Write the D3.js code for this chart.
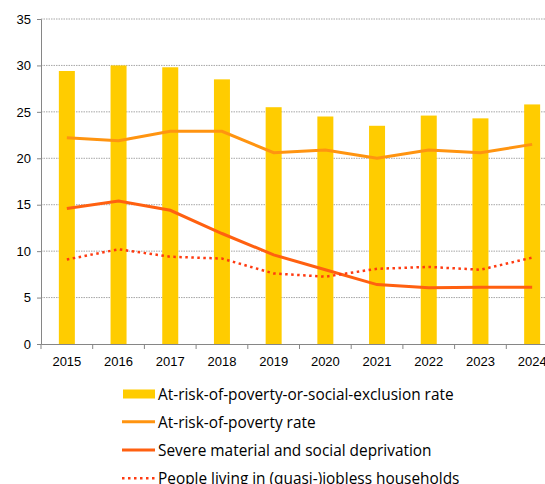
<!DOCTYPE html>
<html><head><meta charset="utf-8">
<script src="https://cdn.jsdelivr.net/npm/d3@7"></script>
<style>body{margin:0;background:#fff;overflow:hidden}svg{display:block}</style>
</head><body>
<svg id="c" width="545" height="484"></svg>
<script>
const years = ["2015","2016","2017","2018","2019","2020","2021","2022","2023","2024"];
const aropeRate = [29.4,30.0,29.8,28.5,25.5,24.5,23.5,24.6,24.3,25.8];
const aropRate = [22.2,21.9,22.9,22.9,20.6,20.9,20.0,20.9,20.6,21.5];
const smsdRate = [14.6,15.4,14.4,11.9,9.6,8.0,6.4,6.05,6.1,6.1];
const lwiRate = [9.1,10.2,9.4,9.2,7.6,7.25,8.1,8.3,8.0,9.3];
const yTicks = [0,5,10,15,20,25,30,35];
const legendLabels = ["At-risk-of-poverty-or-social-exclusion rate","At-risk-of-poverty rate","Severe material and social deprivation","People living in (quasi-)jobless households"];

const svg = d3.select("#c");
const font = "'Liberation Sans', Arial, sans-serif";
const lfont = "'Open Sans', 'Liberation Sans', sans-serif";
const x0 = 41, x1 = 558, yTop = 19, yBot = 344;
const x = d3.scaleBand().domain(years).range([x0, x1]).padding(0);
const y = d3.scaleLinear().domain([0,35]).range([yBot, yTop]);
const cx = d => x(d) + x.bandwidth()/2;

// gridlines
svg.append("g").selectAll("line").data(yTicks.filter(t=>t>0)).join("line")
  .attr("x1", x0).attr("x2", 545).attr("y1", d=>y(d)).attr("y2", d=>y(d))
  .attr("stroke", "#a6a6a6").attr("stroke-width", 1).attr("stroke-dasharray", "1.5,1");

// bars
const bw = 16;
svg.append("g").selectAll("rect").data(years).join("rect")
  .attr("x", (d)=>cx(d)-bw/2).attr("width", bw)
  .attr("y", (d,i)=>y(aropeRate[i])).attr("height", (d,i)=>y(0)-y(aropeRate[i]))
  .attr("fill", "#FFCC00");

// axes
const yAxis = svg.append("g").attr("transform", `translate(${x0},0)`)
  .call(d3.axisLeft(y).tickValues(yTicks).tickSize(4).tickPadding(6));
yAxis.select(".domain").attr("stroke", "#868686");
yAxis.selectAll(".tick line").attr("stroke", "#868686");
yAxis.selectAll("text").attr("font-family", font).attr("font-size", 13).attr("fill", "#000");

const xAxis = svg.append("g").attr("transform", `translate(0,${yBot})`)
  .call(d3.axisBottom(x).tickSize(0).tickPadding(13));
xAxis.select(".domain").attr("stroke", "#868686");
xAxis.selectAll("text").attr("font-family", font).attr("font-size", 13).attr("fill", "#000");
// tick marks at band boundaries
svg.append("g").selectAll("line").data(years).join("line")
  .attr("x1", d=>x(d)).attr("x2", d=>x(d)).attr("y1", yBot).attr("y2", yBot+5)
  .attr("stroke", "#868686");

// lines
const line = d3.line().x((d,i)=>cx(years[i])).y(d=>y(d));
svg.append("path").datum(aropRate).attr("d", line).attr("fill","none")
  .attr("stroke", "#FF9410").attr("stroke-width", 3);
svg.append("path").datum(smsdRate).attr("d", line).attr("fill","none")
  .attr("stroke", "#FF6010").attr("stroke-width", 3);
svg.append("path").datum(lwiRate).attr("d", line).attr("fill","none")
  .attr("stroke", "#FF3A10").attr("stroke-width", 2.5).attr("stroke-dasharray", "2.5,3.5");

// legend
const lg = svg.append("g");
const rows = [393.5, 421.7, 450, 478.3];
lg.append("rect").attr("x", 123).attr("y", 389.5).attr("width", 32).attr("height", 9).attr("fill", "#FFCC00");
lg.append("line").attr("x1",122).attr("x2",155).attr("y1",rows[1]).attr("y2",rows[1]).attr("stroke","#FF9410").attr("stroke-width",3);
lg.append("line").attr("x1",122).attr("x2",155).attr("y1",rows[2]).attr("y2",rows[2]).attr("stroke","#FF6010").attr("stroke-width",3);
lg.append("line").attr("x1",122).attr("x2",155).attr("y1",rows[3]).attr("y2",rows[3]).attr("stroke","#FF3A10").attr("stroke-width",2.5).attr("stroke-dasharray","2.5,3.5");
lg.selectAll("text").data(legendLabels).join("text")
  .attr("x", 158).attr("y", (d,i)=>rows[i]+6).attr("font-family", lfont).attr("font-size", 15.4).attr("fill","#000")
  .text(d=>d);
</script>
</body></html>
